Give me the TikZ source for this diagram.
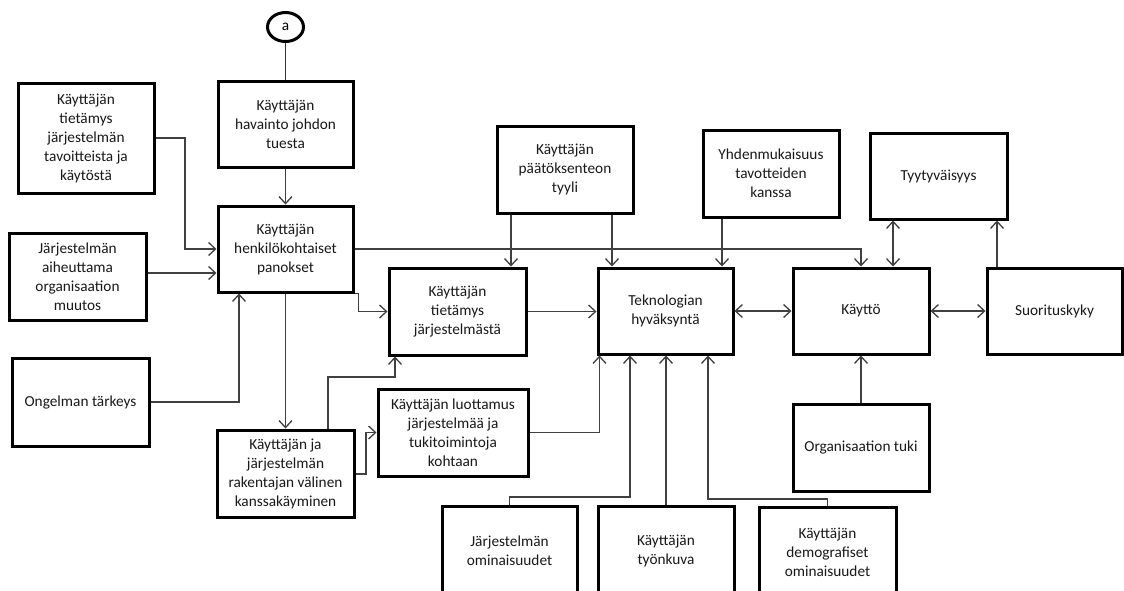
\documentclass[tikz,border=0pt]{standalone}
\usepackage{fontspec}
\setmainfont{Carlito}
\usetikzlibrary{arrows.meta,shapes.geometric}
\newcommand{\boxfont}{\fontsize{15.3pt}{19pt}\selectfont}
\begin{document}
\begin{tikzpicture}[x=1pt,y=-1pt,
  box/.style={draw=black, line width=3pt, rectangle, align=center, inner sep=0pt,
    font=\boxfont, text=black!90},
  plainline/.style={draw=black!80, line width=1.3pt},
  conn/.style={draw=black!75, line width=1.3pt, -{Straight Barb[length=7pt,width=13pt]}},
  dconn/.style={draw=black!75, line width=1.3pt, {Straight Barb[length=7pt,width=13pt]}-{Straight Barb[length=7pt,width=13pt]}}
]
\useasboundingbox (0,0) rectangle (1124,590);
\fill[white] (0,0) rectangle (1124,590);
\clip (0,0) rectangle (1124,590);

% connector label circle
\node[ellipse, draw, line width=3pt, minimum width=36pt, minimum height=29pt, inner sep=0pt,
  font=\boxfont] (circ) at (285.5,27) {a};

% left column
\node[box, minimum width=135pt, minimum height=86pt] (hav) at (285.5,124)
  {Käyttäjän\\havainto johdon\\tuesta};
\node[box, minimum width=136pt, minimum height=110pt] (tav) at (86,138)
  {Käyttäjän\\tietämys\\järjestelmän\\tavoitteista ja\\käytöstä};
\node[box, minimum width=135pt, minimum height=86pt] (henk) at (285.5,249)
  {Käyttäjän\\henkilökohtaiset\\panokset};
\node[box, minimum width=137pt, minimum height=87pt] (muut) at (77.5,276.5)
  {Järjestelmän\\aiheuttama\\organisaation\\muutos};
\node[box, minimum width=137pt, minimum height=88pt] (ong) at (80.5,402)
  {Ongelman tärkeys};
\node[box, minimum width=137pt, minimum height=87pt] (kans) at (285.5,473.5)
  {Käyttäjän ja\\järjestelmän\\rakentajan välinen\\kanssakäyminen};

% middle
\node[box, minimum width=137pt, minimum height=87pt] (tjar) at (457.5,311.5)
  {Käyttäjän\\tietämys\\järjestelmästä};
\node[box, minimum width=150pt, minimum height=87pt] (luot) at (453,432.5)
  {Käyttäjän luottamus\\järjestelmää ja\\tukitoimintoja\\kohtaan};
\node[box, minimum width=136pt, minimum height=87pt] (paat) at (565,169.5)
  {Käyttäjän\\päätöksenteon\\tyyli};
\node[box, minimum width=135pt, minimum height=86pt] (tek) at (665.5,311)
  {Teknologian\\hyväksyntä};
\node[box, minimum width=136pt, minimum height=87pt] (yhd) at (771,173.5)
  {Yhdenmukaisuus\\tavotteiden\\kanssa};

% right
\node[box, minimum width=137pt, minimum height=86pt] (tyy) at (938.5,176)
  {Tyytyväisyys};
\node[box, minimum width=136pt, minimum height=86pt] (kay) at (861,311)
  {Käyttö};
\node[box, minimum width=135pt, minimum height=86pt] (suo) at (1054.5,311)
  {Suorituskyky};
\node[box, minimum width=136pt, minimum height=87pt] (org) at (861,447.5)
  {Organisaation tuki};

% bottom row
\node[box, minimum width=135pt, minimum height=89pt] (jom) at (509.5,550.5)
  {Järjestelmän\\ominaisuudet};
\node[box, minimum width=136pt, minimum height=89pt] (tyo) at (666,550.5)
  {Käyttäjän\\työnkuva};
\node[box, minimum width=137pt, minimum height=90pt] (dem) at (827.5,552)
  {Käyttäjän\\demografiset\\ominaisuudet};

% connectors
\draw[plainline] (circ) -- (hav);
\draw[conn] (hav) -- (henk);
\draw[conn] (tav.east) -- (185,138) |- (henk.west);
\draw[conn] (muut.east |- 0,273) -- (henk.west |- 0,273);
\draw[conn] (ong.east) -| (henk.south -| 239,0);
\draw[conn] (henk) -- (kans);
\draw[conn] (henk.south east) -- ++(4,0) |- (tjar.west);
\draw[conn] (henk.east) -| (kay.north);
\draw[conn] (kans.north -| 328,0) |- (395,377) -- (tjar.south -| 395,0);
\draw[conn] (kans.east |- 0,474) -- (366,474) |- (luot.west);
\draw[conn] (paat.south -| 511,0) -- (tjar.north -| 511,0);
\draw[conn] (paat.south -| 612,0) -- (tek.north -| 612,0);
\draw[conn] (yhd.south -| 722,0) -- (tek.north -| 722,0);
\draw[conn] (tjar.east) -- (tek.west |- tjar.east);
\draw[dconn] (tek.east) -- (kay.west);
\draw[dconn] (kay.east) -- (suo.west);
\draw[dconn] (tyy.south -| 893,0) -- (kay.north -| 893,0);
\draw[conn] (suo.north -| 997,0) -- (tyy.south -| 997,0);
\draw[conn] (org) -- (kay);
\draw[conn] (luot.east) -| (tek.south -| 599.5,0);
\draw[conn] (jom.north) |- (630,497) -- (tek.south -| 630,0);
\draw[conn] (tyo.north) -- (tek.south -| tyo.north);
\draw[conn] (dem.north) |- (708,499) -- (tek.south -| 708,0);
\end{tikzpicture}
\end{document}
